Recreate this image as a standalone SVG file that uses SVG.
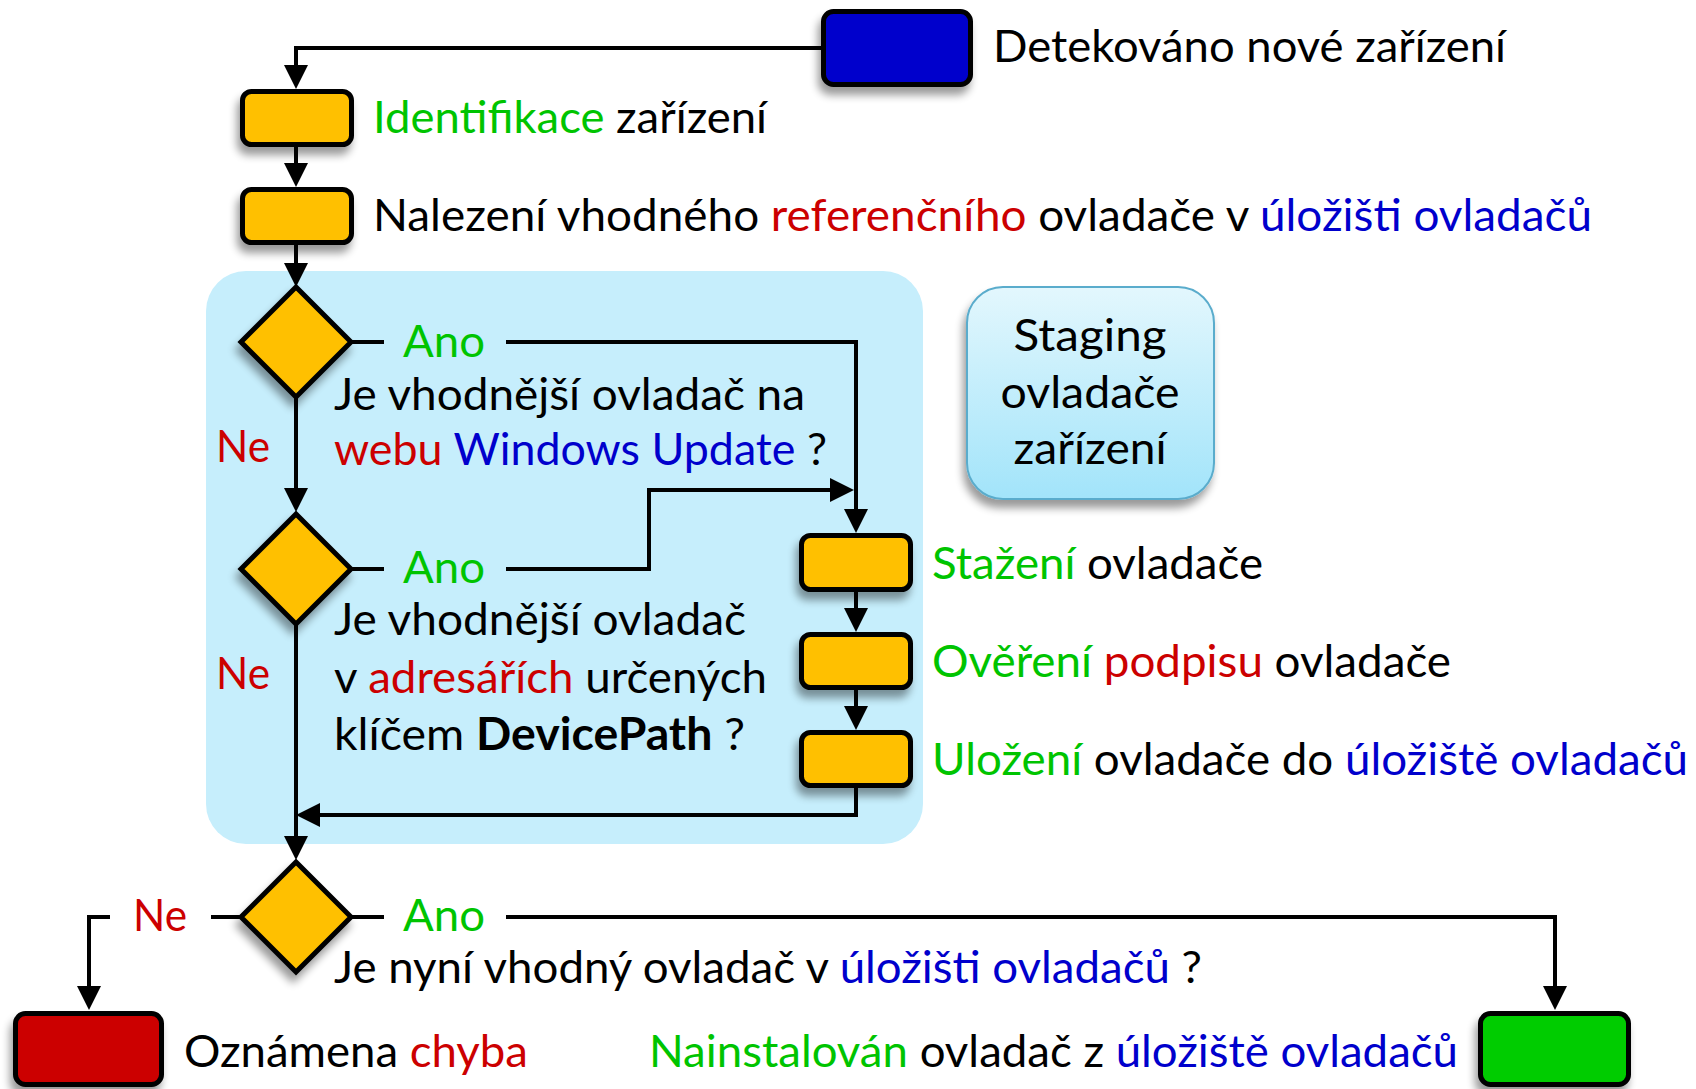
<svg xmlns="http://www.w3.org/2000/svg" width="1696" height="1089" viewBox="0 0 1696 1089">
<style>
text{font-family:Lato,"Open Sans","Noto Sans",sans-serif;font-size:45px;fill:#000}
.g{fill:#00c400}.r{fill:#cc0000}.b{fill:#0000cc}
.box{stroke:#000;stroke-width:5}
.y{fill:#ffc000}
.ln{fill:none;stroke:#000;stroke-width:4}
</style>
<defs>
<filter id="sh" x="-30%" y="-30%" width="160%" height="180%">
<feGaussianBlur in="SourceAlpha" stdDeviation="4"/>
<feOffset dx="-3" dy="8"/>
<feComponentTransfer><feFuncA type="linear" slope="0.4"/></feComponentTransfer>
<feMerge><feMergeNode/><feMergeNode in="SourceGraphic"/></feMerge>
</filter>
<linearGradient id="stg" x1="0" y1="0" x2="0" y2="1">
<stop offset="0" stop-color="#e3f7fd"/>
<stop offset="1" stop-color="#a2e4fa"/>
</linearGradient>
<marker id="ah" markerUnits="userSpaceOnUse" markerWidth="24" markerHeight="24" refX="14" refY="12" orient="auto">
<path d="M0,0 L24,12 L0,24 z" fill="#000"/>
</marker>
</defs>

<rect id="staging-area" x="206" y="271" width="717" height="573" rx="40" fill="#c6eefc"/>

<g id="staging-label">
<rect x="967" y="287" width="247" height="212" rx="36" fill="url(#stg)" stroke="#5aaccc" stroke-width="2" filter="url(#sh)"/>
<text x="1090" y="351" text-anchor="middle" textLength="153" lengthAdjust="spacingAndGlyphs">Staging</text>
<text x="1090" y="408" text-anchor="middle" textLength="179" lengthAdjust="spacingAndGlyphs">ovladače</text>
<text x="1090" y="464" text-anchor="middle" textLength="153" lengthAdjust="spacingAndGlyphs">zařízení</text>
</g>

<g id="connectors">
<path class="ln" d="M821,48 H296 V79" marker-end="url(#ah)"/>
<path class="ln" d="M296,147 V177" marker-end="url(#ah)"/>
<path class="ln" d="M296,245 V277" marker-end="url(#ah)"/>
<path class="ln" d="M296,397 V502" marker-end="url(#ah)"/>
<path class="ln" d="M296,624 V850" marker-end="url(#ah)"/>
<path class="ln" d="M351,342 H384"/>
<path class="ln" d="M506,342 H856 V523" marker-end="url(#ah)"/>
<path class="ln" d="M351,569 H384"/>
<path class="ln" d="M506,569 H649 V490 H844" marker-end="url(#ah)"/>
<path class="ln" d="M856,592 V622" marker-end="url(#ah)"/>
<path class="ln" d="M856,690 V720" marker-end="url(#ah)"/>
<path class="ln" d="M856,788 V815 H306" marker-end="url(#ah)"/>
<path class="ln" d="M351,917 H384"/>
<path class="ln" d="M506,917 H1555 V1000" marker-end="url(#ah)"/>
<path class="ln" d="M241,917 H211"/>
<path class="ln" d="M110,917 H89 V1000" marker-end="url(#ah)"/>
</g>

<g id="start">
<rect class="box" x="823.5" y="11.5" width="147" height="73" rx="10" fill="#0000cc" filter="url(#sh)"/>
<text x="993" y="62" textLength="513" lengthAdjust="spacingAndGlyphs">Detekováno nové zařízení</text>
</g>

<g id="identify">
<rect class="box y" x="242.5" y="91.5" width="109" height="53" rx="9" filter="url(#sh)"/>
<text x="373" y="133" textLength="394" lengthAdjust="spacingAndGlyphs"><tspan class="g">Identifikace</tspan> zařízení</text>
</g>

<g id="find-reference">
<rect class="box y" x="242.5" y="189.5" width="109" height="53" rx="9" filter="url(#sh)"/>
<text x="373" y="231" textLength="1219" lengthAdjust="spacingAndGlyphs">Nalezení vhodného <tspan class="r">referenčního</tspan> ovladače v <tspan class="b">úložišti ovladačů</tspan></text>
</g>

<g id="decision-wu">
<polygon class="box y" points="296,287 351,342 296,397 241,342" filter="url(#sh)"/>
<text x="403" y="357" class="g" textLength="82" lengthAdjust="spacingAndGlyphs">Ano</text>
<text x="334" y="410" textLength="471" lengthAdjust="spacingAndGlyphs">Je vhodnější ovladač na</text>
<text x="334" y="465" textLength="493" lengthAdjust="spacingAndGlyphs"><tspan class="r">webu</tspan> <tspan class="b">Windows Update</tspan> ?</text>
<text x="216" y="462" class="r" textLength="54" lengthAdjust="spacingAndGlyphs">Ne</text>
</g>

<g id="decision-devicepath">
<polygon class="box y" points="296,514 351,569 296,624 241,569" filter="url(#sh)"/>
<text x="403" y="583" class="g" textLength="82" lengthAdjust="spacingAndGlyphs">Ano</text>
<text x="334" y="635" textLength="412" lengthAdjust="spacingAndGlyphs">Je vhodnější ovladač</text>
<text x="334" y="693" textLength="433" lengthAdjust="spacingAndGlyphs">v <tspan class="r">adresářích</tspan> určených</text>
<text x="334" y="750" textLength="411" lengthAdjust="spacingAndGlyphs">klíčem <tspan font-weight="bold">DevicePath</tspan> ?</text>
<text x="216" y="689" class="r" textLength="54" lengthAdjust="spacingAndGlyphs">Ne</text>
</g>

<g id="download">
<rect class="box y" x="801.5" y="535.5" width="109" height="54" rx="9" filter="url(#sh)"/>
<text x="932" y="579" textLength="331" lengthAdjust="spacingAndGlyphs"><tspan class="g">Stažení</tspan> ovladače</text>
</g>

<g id="verify">
<rect class="box y" x="801.5" y="634.5" width="109" height="53" rx="9" filter="url(#sh)"/>
<text x="932" y="677" textLength="519" lengthAdjust="spacingAndGlyphs"><tspan class="g">Ověření</tspan> <tspan class="r">podpisu</tspan> ovladače</text>
</g>

<g id="store">
<rect class="box y" x="801.5" y="732.5" width="109" height="53" rx="9" filter="url(#sh)"/>
<text x="932" y="775" textLength="756" lengthAdjust="spacingAndGlyphs"><tspan class="g">Uložení</tspan> ovladače do <tspan class="b">úložiště ovladačů</tspan></text>
</g>

<g id="decision-store">
<polygon class="box y" points="296,862 351,917 296,972 241,917" filter="url(#sh)"/>
<text x="403" y="931" class="g" textLength="82" lengthAdjust="spacingAndGlyphs">Ano</text>
<text x="133" y="931" class="r" textLength="54" lengthAdjust="spacingAndGlyphs">Ne</text>
<text x="334" y="983" textLength="868" lengthAdjust="spacingAndGlyphs">Je nyní vhodný ovladač v <tspan class="b">úložišti ovladačů</tspan> ?</text>
</g>

<g id="error">
<rect class="box" x="15.5" y="1013.5" width="146" height="71" rx="10" fill="#cc0000" filter="url(#sh)"/>
<text x="184" y="1067" textLength="344" lengthAdjust="spacingAndGlyphs">Oznámena <tspan class="r">chyba</tspan></text>
</g>

<g id="installed">
<rect class="box" x="1480.5" y="1013.5" width="148" height="71" rx="10" fill="#00cc00" filter="url(#sh)"/>
<text x="649" y="1067" textLength="809" lengthAdjust="spacingAndGlyphs"><tspan class="g">Nainstalován</tspan> ovladač z <tspan class="b">úložiště ovladačů</tspan></text>
</g>
</svg>
